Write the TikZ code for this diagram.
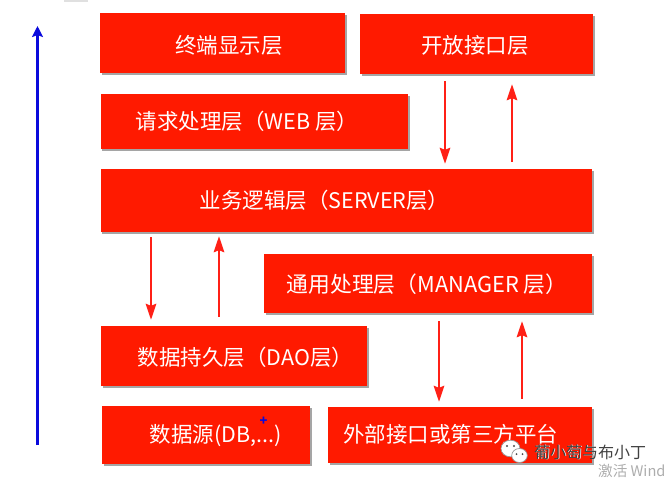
\documentclass[tikz,border=0pt]{standalone}
\usepackage{fontspec}
\setmainfont{Noto Sans CJK SC}
\usetikzlibrary{arrows.meta,shadows,calc}
\definecolor{boxred}{HTML}{FF1A00}
\definecolor{arrowred}{HTML}{FF2016}
\definecolor{upblue}{HTML}{0A0ADC}
\tikzset{
  x=1pt,y=-1pt,
  layerbox/.style={fill=boxred,draw=none,inner sep=0pt,
    drop shadow={shadow xshift=1.6pt,shadow yshift=-1.8pt,opacity=.5,fill=black!70}},
  layertext/.style={text=white,font=\fontsize{21.5}{24}\selectfont,inner sep=0pt,anchor=center},
  flow/.style={draw=arrowred,line width=2.1pt,-{Stealth[length=16pt,width=10.5pt,inset=2pt]}},
  mark text/.style={inner sep=0pt,font=\fontsize{16}{18}\selectfont}
}
\newcommand{\layer}[5]{\node[layerbox,minimum width=#4-#2,minimum height=#5-#3] (#1) at ({(#2+#4)/2},{(#3+#5)/2}) {};}
\begin{document}
\begin{tikzpicture}
\useasboundingbox (0,0) rectangle (667,483);
\fill[black!12] (64,0) rectangle (88,2);

\layer{term}{100}{13}{345}{73}
\layer{open}{360}{14}{593}{74}
\layer{web}{100.5}{94}{408}{149}
\layer{biz}{100.5}{169}{592}{232}
\layer{mgr}{264}{254}{592}{313}
\layer{dao}{101}{326}{367}{386}
\layer{src}{102}{406}{310}{464}
\layer{ext}{328}{407}{592}{463}

\node[layertext] (termT) at (229,45) {终端显示层};
\node[layertext] (openT) at (475,45) {开放接口层};
\node[layertext] (webT) at (247,121) {请求处理层（WEB 层）};
\node[layertext] (bizT) at (324.5,200) {业务逻辑层（SERVER层）};
\node[layertext,font=\fontsize{21.8}{24}\selectfont] (mgrT) at (427,284) {通用处理层（MANAGER 层）};
\node[layertext] (daoT) at (245.5,357) {数据持久层（DAO层）};
\node[layertext] (srcT) at (215.5,436) {数据源(DB,...)};
\node[layertext] (extT) at (450.5,434) {外部接口或第三方平台};

\coordinate (x1) at (445,0);
\coordinate (x2) at (512,0);
\coordinate (x3) at (151,0);
\coordinate (x4) at (219,0);
\coordinate (x5) at (439,0);
\coordinate (x6) at (522,0);
\draw[flow,shorten <=7pt,shorten >=5pt] (open.south -| x1) -- (biz.north -| x1);
\draw[flow,shorten <=7pt,shorten >=10pt] (biz.north -| x2) -- (open.south -| x2);
\draw[flow,shorten <=5pt,shorten >=6pt] (biz.south -| x3) -- (dao.north -| x3);
\draw[flow,shorten <=9pt,shorten >=4pt] (dao.north -| x4) -- (biz.south -| x4);
\draw[flow,shorten <=8pt,shorten >=5pt] (mgr.south -| x5) -- (ext.north -| x5);
\draw[flow,shorten <=8pt,shorten >=8pt] (ext.north -| x6) -- (mgr.south -| x6);

\coordinate (bluestart) at (37.5,445);
\coordinate (blueend) at (37.5,26);
\draw[draw=upblue,line width=2.4pt,-{Stealth[length=11pt,width=11pt,inset=2pt]}] (bluestart) -- (blueend);

\node[text=upblue,inner sep=0pt,font=\fontsize{13}{14}\selectfont\bfseries] (plus) at (263.5,421.5) {+};

% watermark
\fill[white,draw=black!40,line width=.7pt] (510.5,448.5) ellipse (9.5 and 8.3);
\fill[white,draw=black!40,line width=.7pt] (519.5,455.5) ellipse (7.8 and 7);
\fill[black!70] (507,446) circle (1.2) (514,446) circle (1.2) (516.5,454) circle (1) (522.5,454) circle (1);
\node[mark text,text=white,anchor=west] (wmh) at (534.7,452.7) {葡小萄与布小丁};
\node[mark text,text=black!75,anchor=west] (wm) at (534,452) {葡小萄与布小丁};
\node[inner sep=0pt,anchor=west,text=black!32,font=\fontsize{14.6}{18}\selectfont] (act) at (598,471) {激活 Wind};
\end{tikzpicture}
\end{document}
